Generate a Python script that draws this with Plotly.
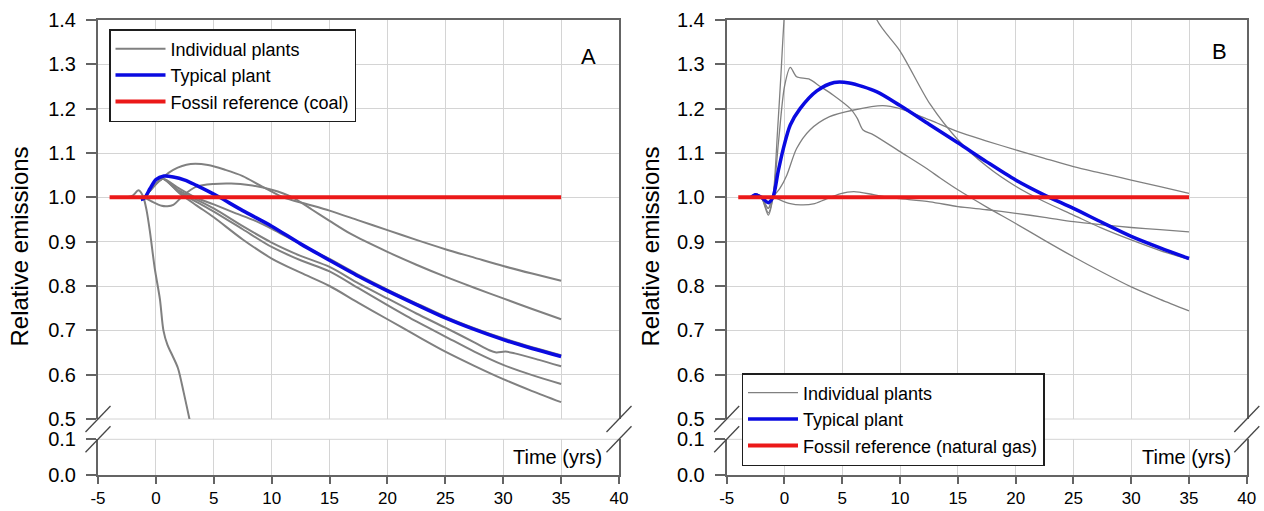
import plotly.graph_objects as go

# ---------------- data ----------------
x_ticks = [-5, 0, 5, 10, 15, 20, 25, 30, 35, 40]
y_up_ticks = [0.5, 0.6, 0.7, 0.8, 0.9, 1.0, 1.1, 1.2, 1.3, 1.4]
y_lo_ticks = [0.0, 0.1]

# Panel A (coal)
A_ref_x = [-4, 35]
A_ref_y = [1.0, 1.0]
A_blue_x = [-1.3, -1.0, -0.5, 0.0, 0.7, 1.5, 2.5, 3.5, 4.5, 5.5, 7.5, 10, 12.5, 15, 17.5, 20, 22.5, 25, 27.5, 30, 32.5, 35]
A_blue_y = [0.995, 0.998, 1.02, 1.04, 1.048, 1.046, 1.039, 1.027, 1.014, 1.0, 0.97, 0.935, 0.895, 0.858, 0.822, 0.789, 0.758, 0.728, 0.702, 0.679, 0.659, 0.641]

A_g1_x = [-1.0, 0.0, 0.6, 1.5, 3.0, 4.5, 6.0, 7.5, 9.0, 11.0, 13.0, 15.0, 17.5, 20, 22.5, 25, 27.5, 30, 32.5, 35]
A_g1_y = [1.0, 1.03, 1.045, 1.062, 1.075, 1.073, 1.062, 1.048, 1.027, 1.0, 0.985, 0.97, 0.948, 0.926, 0.904, 0.883, 0.864, 0.845, 0.828, 0.812]
A_g2_x = [-1.0, -0.3, 0.5, 1.0, 1.5, 2.4, 3.5, 5.0, 6.5, 8.0, 10.0, 11.8, 13.5, 15, 16.8, 20, 22.5, 25, 27.5, 30, 32.5, 35]
A_g2_y = [1.0, 0.99, 0.981, 0.98, 0.983, 1.005, 1.024, 1.03, 1.031, 1.028, 1.017, 1.0, 0.972, 0.947, 0.918, 0.877, 0.848, 0.821, 0.796, 0.772, 0.748, 0.725]
A_g3_x = [-2.5, -2.0, -1.5, -1.1, -0.8, -0.5, -0.1, 0.35, 0.65, 1.0, 1.3, 1.9, 2.4, 2.9, 3.2]
A_g3_y = [1.0, 1.004, 1.016, 1.002, 0.97, 0.92, 0.84, 0.77, 0.70, 0.667, 0.65, 0.615, 0.56, 0.50, 0.465]
A_g4_x = [-1.0, 0.0, 0.6, 2.0, 3.4, 5.0, 6.8, 8.5, 10.3, 12.5, 15, 17.5, 20, 22.5, 25, 27.5, 30, 32.5, 35]
A_g4_y = [1.0, 1.03, 1.042, 1.02, 1.0, 0.984, 0.965, 0.948, 0.925, 0.894, 0.861, 0.825, 0.792, 0.761, 0.731, 0.705, 0.682, 0.662, 0.644]
A_g5_x = [-1.0, 0.0, 0.6, 2.0, 3.5, 5.0, 7.5, 10, 12.5, 15, 17.5, 20, 22.5, 25, 27.5, 28.8, 29.4, 30.2, 31.0, 33, 35]
A_g5_y = [1.0, 1.03, 1.042, 1.015, 0.995, 0.975, 0.935, 0.898, 0.868, 0.843, 0.806, 0.772, 0.738, 0.706, 0.673, 0.655, 0.650, 0.652, 0.648, 0.634, 0.619]
A_g6_x = [-1.0, 0.0, 0.6, 2.0, 3.5, 5, 7.5, 10, 12.5, 15, 17.5, 20, 22.5, 25, 27.5, 30, 32.5, 35]
A_g6_y = [1.0, 1.03, 1.042, 1.012, 0.99, 0.968, 0.928, 0.888, 0.858, 0.833, 0.795, 0.757, 0.72, 0.686, 0.652, 0.622, 0.599, 0.579]
A_g7_x = [-1.0, 0.0, 0.6, 2.0, 3.5, 5, 7.5, 10, 12.5, 15, 17.5, 20, 22.5, 25, 27.5, 30, 32.5, 35]
A_g7_y = [1.0, 1.03, 1.042, 1.01, 0.982, 0.955, 0.905, 0.862, 0.83, 0.80, 0.762, 0.725, 0.688, 0.652, 0.62, 0.59, 0.563, 0.538]

# Panel B (natural gas)
B_ref_x = [-4, 35]
B_ref_y = [1.0, 1.0]
B_blue_x = [-2.9, -2.5, -2.0, -1.4, -1.0, -0.55, -0.1, 0.5, 1.35, 2.8, 4.3, 5.6, 8.0, 10, 12.5, 15, 17.5, 20, 22.5, 25, 27.5, 30, 32.5, 35]
B_blue_y = [1.0, 1.006, 1.0, 0.988, 1.0, 1.058, 1.11, 1.163, 1.2, 1.24, 1.259, 1.258, 1.238, 1.207, 1.165, 1.123, 1.08, 1.039, 1.005, 0.975, 0.943, 0.912, 0.886, 0.862]

B_g1_x = [-2.9, -2.5, -2.0, -1.4, -1.0, -0.6, -0.3, 0.0, 0.5, 2.0, 4.0, 6.0, 8.0, 10, 12.6, 15, 17.5, 20, 22.5, 25, 27.5, 30, 32.5, 35]
B_g1_y = [1.0, 1.008, 1.0, 0.96, 1.0, 1.15, 1.28, 1.42, 1.6, 1.8, 1.75, 1.57, 1.4, 1.33, 1.21, 1.13, 1.07, 1.025, 0.99, 0.96, 0.93, 0.904, 0.88, 0.86]
B_g2_x = [-2.9, -2.5, -2.0, -1.4, -1.0, -0.5, 0.0, 0.5, 1.05, 2.1, 3.1, 4.2, 5.7, 6.3, 6.8, 7.7, 10, 12.3, 13.5, 15, 17.5, 20, 22.5, 25, 27.5, 30, 32.5, 35]
B_g2_y = [1.0, 1.008, 1.0, 0.965, 1.0, 1.13, 1.25, 1.293, 1.272, 1.267, 1.25, 1.231, 1.2, 1.178, 1.152, 1.141, 1.103, 1.065, 1.043, 1.017, 0.978, 0.941, 0.903, 0.866, 0.831, 0.798, 0.77, 0.744]
B_g3_x = [-2.9, -2.5, -2.0, -1.4, -1.0, -0.4, 0.2, 1.05, 2.2, 3.9, 6.0, 8.5, 10, 12.6, 15, 17.5, 20, 22.5, 25, 27.5, 30, 32.5, 35]
B_g3_y = [1.0, 1.008, 1.0, 0.975, 1.0, 1.02, 1.05, 1.11, 1.152, 1.182, 1.197, 1.207, 1.2, 1.174, 1.148, 1.127, 1.107, 1.088, 1.069, 1.054, 1.039, 1.024, 1.009]
B_g4_x = [-2.9, -2.5, -2.0, -1.4, -1.0, -0.3, 0.5, 1.4, 2.5, 3.5, 4.8, 6.0, 7.7, 9.0, 10, 12.6, 15, 17.5, 20, 22.5, 25, 27.5, 30, 32.5, 35]
B_g4_y = [1.0, 1.008, 1.0, 0.975, 1.0, 0.993, 0.986, 0.983, 0.985, 0.995, 1.008, 1.013, 1.006, 1.0, 0.997, 0.99, 0.979, 0.972, 0.964, 0.955, 0.945, 0.938, 0.932, 0.927, 0.922]

A_gray = [(A_g1_x, A_g1_y), (A_g2_x, A_g2_y), (A_g3_x, A_g3_y), (A_g4_x, A_g4_y),
          (A_g5_x, A_g5_y), (A_g6_x, A_g6_y), (A_g7_x, A_g7_y)]
B_gray = [(B_g1_x, B_g1_y), (B_g2_x, B_g2_y), (B_g3_x, B_g3_y), (B_g4_x, B_g4_y)]

# ---------------- layout geometry (pixels) ----------------
W, H = 1264, 511
A_left, A_right = 98, 619
B_left, B_right = 726.7, 1246.8
up_top, up_bot = 20, 419
lo_top, lo_bot = 439.3, 475

def fx(p):
    return p / W

def fy(p):
    return 1 - p / H

FONT = "Liberation Sans, Arial, sans-serif"
GRAY = "rgb(128,128,128)"
BLUE = "rgb(10,10,225)"
RED = "rgb(235,25,25)"
AXC = "rgb(100,100,100)"
GRIDC = "rgb(212,212,212)"

fig = go.Figure()

def add_panel(gray, bx, by, rx, ry, xa, ya, xl, yl, leg, refname, gw):
    # empty trace so the lower (0-0.1) segment of the broken axis is drawn
    fig.add_trace(go.Scatter(x=[], y=[], mode="lines", showlegend=False, xaxis=xl, yaxis=yl,
                             hoverinfo="skip"))
    for i, (xs, ys) in enumerate(gray):
        fig.add_trace(go.Scatter(x=xs, y=ys, mode="lines",
                                 line=dict(color=GRAY, width=gw, shape="spline", smoothing=0.8),
                                 name="Individual plants", showlegend=(i == 0),
                                 xaxis=xa, yaxis=ya, legend=leg, hoverinfo="skip"))
    fig.add_trace(go.Scatter(x=bx, y=by, mode="lines",
                             line=dict(color=BLUE, width=3.5, shape="spline", smoothing=0.8),
                             name="Typical plant", xaxis=xa, yaxis=ya, legend=leg))
    fig.add_trace(go.Scatter(x=rx, y=ry, mode="lines",
                             line=dict(color=RED, width=4),
                             name=refname, xaxis=xa, yaxis=ya, legend=leg))

add_panel(A_gray, A_blue_x, A_blue_y, A_ref_x, A_ref_y, "x2", "y2", "x", "y", "legend",
          "Fossil reference (coal)", 2)
add_panel(B_gray, B_blue_x, B_blue_y, B_ref_x, B_ref_y, "x4", "y4", "x3", "y3", "legend2",
          "Fossil reference (natural gas)", 1.3)

y_up_text = ["%.1f" % v for v in y_up_ticks]
y_lo_text = ["%.1f" % v for v in y_lo_ticks]
x_text = [str(v) for v in x_ticks]

def xlow(dom, anchor):
    return dict(domain=dom, anchor=anchor, range=[-5, 40], tickmode="array", tickvals=x_ticks,
                ticktext=x_text, ticks="outside", ticklen=7, tickwidth=1.5, tickcolor=AXC,
                tickfont=dict(size=17, family=FONT, color="black"), ticklabelstandoff=0,
                showline=True, linecolor=AXC, linewidth=2, showgrid=True, gridcolor=GRIDC,
                gridwidth=1, zeroline=False, automargin=False)

def xup(dom, anchor, match):
    return dict(domain=dom, anchor=anchor, matches=match, range=[-5, 40], side="top",
                tickmode="array", tickvals=x_ticks, showticklabels=False, ticks="",
                showline=True, linecolor=AXC, linewidth=2, showgrid=True, gridcolor=GRIDC,
                gridwidth=1, zeroline=False, automargin=False)

def ylow(anchor):
    return dict(domain=[fy(lo_bot), fy(lo_top)], anchor=anchor, range=[0, 0.1], tickmode="array",
                tickvals=y_lo_ticks, ticktext=y_lo_text, ticks="outside", ticklen=10, tickwidth=1.5,
                tickcolor=AXC, tickfont=dict(size=20, family=FONT, color="black"),
                ticklabelstandoff=6, showline=True, mirror=True, linecolor=AXC, linewidth=2,
                showgrid=True, gridcolor=GRIDC, zeroline=False, automargin=False)

def yup(anchor):
    return dict(domain=[fy(up_bot), fy(up_top)], anchor=anchor, range=[0.5, 1.4], tickmode="array",
                tickvals=y_up_ticks, ticktext=y_up_text, ticks="outside", ticklen=10, tickwidth=1.5,
                tickcolor=AXC, tickfont=dict(size=20, family=FONT, color="black"),
                ticklabelstandoff=6, showline=True, mirror=True, linecolor=AXC, linewidth=2,
                showgrid=True, gridcolor=GRIDC, zeroline=False, automargin=False)

domA = [fx(A_left), fx(A_right)]
domB = [fx(B_left), fx(B_right)]

legend_common = dict(xanchor="left", yanchor="top", bgcolor="white", bordercolor="rgb(30,30,30)",
                     borderwidth=1.5, font=dict(size=18, family=FONT, color="black"),
                     traceorder="normal", itemwidth=50, tracegroupgap=0)

fig.update_layout(
    width=W, height=H, autosize=False,
    margin=dict(l=0, r=0, t=0, b=0, pad=0, autoexpand=False),
    paper_bgcolor="white", plot_bgcolor="white",
    font=dict(family=FONT, color="black"),
    xaxis=xlow(domA, "y"), xaxis2=xup(domA, "y2", "x"),
    yaxis=ylow("x"), yaxis2=yup("x2"),
    xaxis3=xlow(domB, "y3"), xaxis4=xup(domB, "y4", "x3"),
    yaxis3=ylow("x3"), yaxis4=yup("x4"),
    legend=dict(x=fx(109), y=fy(29), **legend_common),
    legend2=dict(x=fx(741.5), y=fy(373), **legend_common),
    showlegend=True,
)

ann = []
for cx in (19, 650):
    ann.append(dict(text="Relative emissions", x=fx(cx), y=fy(246.5), xref="paper", yref="paper",
                    showarrow=False, textangle=-90, font=dict(size=24, family=FONT, color="black"),
                    xanchor="center", yanchor="middle"))
for rx in (604, 1233):
    ann.append(dict(text="Time (yrs)", x=fx(rx), y=fy(457), xref="paper", yref="paper",
                    showarrow=False, font=dict(size=20, family=FONT, color="black"),
                    xanchor="right", yanchor="middle"))
ann.append(dict(text="A", x=fx(588), y=fy(56.5), xref="paper", yref="paper", showarrow=False,
                font=dict(size=22, family=FONT, color="black"), xanchor="center", yanchor="middle"))
ann.append(dict(text="B", x=fx(1219.5), y=fy(51.5), xref="paper", yref="paper", showarrow=False,
                font=dict(size=22, family=FONT, color="black"), xanchor="center", yanchor="middle"))
fig.update_layout(annotations=ann)

shapes = []
# gridlines at the break edges
for dom in (domA, domB):
    for py in (up_bot, lo_top):
        shapes.append(dict(type="line", xref="paper", yref="paper", x0=dom[0], x1=dom[1],
                           y0=fy(py), y1=fy(py), line=dict(color=GRIDC, width=1), layer="below"))
# axis-break marks
for cx in (A_left, A_right, B_left, B_right):
    for cy in (up_bot, lo_top):
        shapes.append(dict(type="line", xref="paper", yref="paper",
                           x0=fx(cx - 12.5), y0=fy(cy + 13), x1=fx(cx + 12.5), y1=fy(cy - 13),
                           line=dict(color="rgb(70,70,70)", width=1.3)))
fig.update_layout(shapes=shapes)

fig.write_html("out.html")
